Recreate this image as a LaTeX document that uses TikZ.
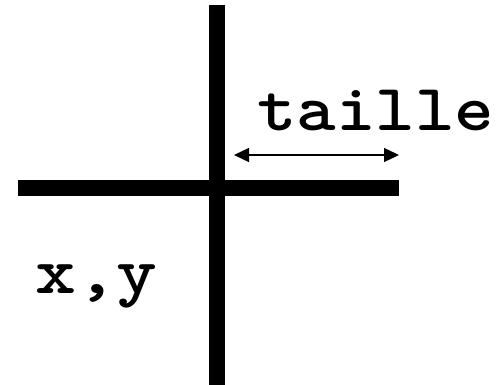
\documentclass[tikz,border=0pt]{standalone}
\usepackage{graphicx}
\usetikzlibrary{arrows.meta}
\begin{document}
\begin{tikzpicture}[x=1pt,y=-1pt,
  bar/.style={line width=16pt,line cap=butt},
  dim/.style={line width=1.3pt,{Triangle[length=15pt,width=14pt]}-{Triangle[length=15pt,width=14pt]}},
  lbl/.style={inner sep=0pt,anchor=base west,font=\fontsize{66pt}{66pt}\ttfamily\bfseries}]
  \useasboundingbox (0,0) rectangle (500,385);
  % crosshair
  \coordinate (vtop) at (217,5);
  \coordinate (vbot) at (217,385);
  \coordinate (hleft) at (18,188);
  \coordinate (hright) at (399,188);
  \draw[bar] (vtop) -- (vbot);
  \draw[bar] (hleft) -- (hright);
  % size arrow
  \coordinate (a1) at (234,155);
  \coordinate (a2) at (399,155);
  \draw[dim] (a1) -- (a2);
  % labels, widened to a Courier-like pitch
  \node[lbl] (taille) at (257,130) {\scalebox{1.14}[1]{taille}};
  \node[lbl] (xy) at (35,293) {\scalebox{1.18}[1]{x,y}};
\end{tikzpicture}
\end{document}
